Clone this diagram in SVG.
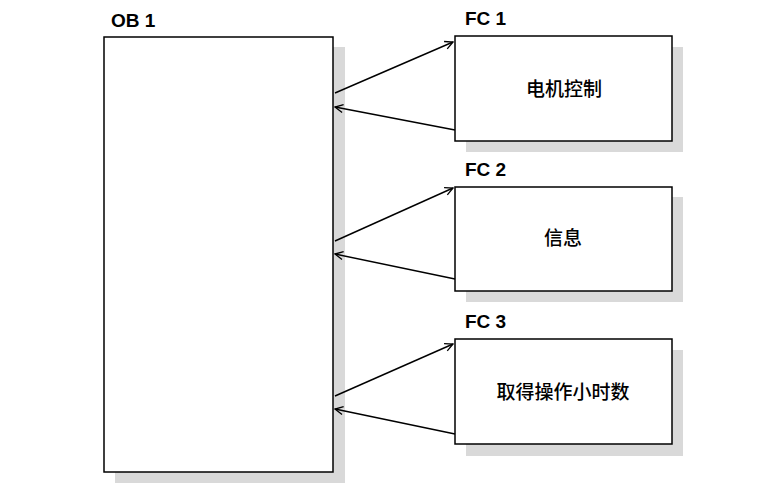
<svg xmlns="http://www.w3.org/2000/svg" width="779" height="486" viewBox="0 0 779 486">
<defs>
<style>
.shadow{fill:#d9d9d9;stroke:none}
.box{fill:#fff;stroke:#000;stroke-width:1.5}
.lbl{font-family:"Liberation Sans",Arial,sans-serif;font-weight:bold;font-size:19px;fill:#000}
.cn{font-family:"Noto Sans CJK SC",sans-serif;font-size:19px;font-weight:500;fill:#000;text-anchor:middle}
.conn{stroke:#000;stroke-width:1.4;fill:none;marker-end:url(#arr)}
</style>
<marker id="arr" viewBox="0 0 10 10" refX="9" refY="5" markerWidth="10" markerHeight="10" markerUnits="userSpaceOnUse" orient="auto">
<path d="M1,1 L9,5 L1,9" fill="none" stroke="#000" stroke-width="1.3"/>
</marker>
</defs>
<rect width="779" height="486" fill="#fff"/>
<g id="OB1">
<rect class="shadow" x="115" y="47" width="230" height="436"/>
<rect class="box" x="104" y="37" width="229" height="435"/>
<text class="lbl" x="111" y="27">OB 1</text>
</g>
<g id="FC1">
<rect class="shadow" x="466" y="47" width="217" height="105"/>
<rect class="box" x="455" y="36" width="217" height="105"/>
<text class="lbl" x="465" y="25">FC 1</text>
<text class="cn" x="564" y="96">电机控制</text>
</g>
<g id="FC2">
<rect class="shadow" x="466" y="197" width="217" height="105"/>
<rect class="box" x="455" y="187" width="217" height="104"/>
<text class="lbl" x="465" y="176">FC 2</text>
<text class="cn" x="563" y="245">信息</text>
</g>
<g id="FC3">
<rect class="shadow" x="466" y="350" width="217" height="106"/>
<rect class="box" x="455" y="339" width="217" height="105"/>
<text class="lbl" x="465" y="328">FC 3</text>
<text class="cn" x="563" y="399">取得操作小时数</text>
</g>
<g id="connectors">
<line class="conn" x1="335" y1="93" x2="453" y2="42"/>
<line class="conn" x1="455" y1="130" x2="335" y2="107"/>
<line class="conn" x1="335" y1="241" x2="453" y2="188"/>
<line class="conn" x1="455" y1="279" x2="335" y2="254"/>
<line class="conn" x1="335" y1="396" x2="453" y2="344"/>
<line class="conn" x1="455" y1="434" x2="335" y2="409"/>
</g>
</svg>
